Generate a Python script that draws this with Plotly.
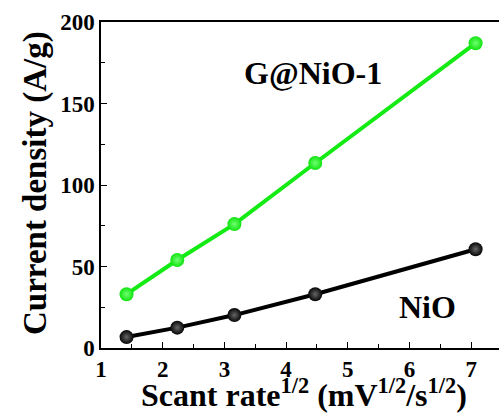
import plotly.graph_objects as go

scan_rate_sqrt = [1.414, 2.236, 3.162, 4.472, 7.071]
g_nio_current = [33.0, 54.0, 76.0, 113.5, 187.0]
nio_current = [6.7, 12.5, 20.2, 33.0, 60.6]

FONT = "Liberation Serif"

L, R, T, B = 101, 0, 22, 67
W, H = 499, 415
pw, ph = W - L - R, H - T - B

def px2paper(px, py):
    return (px - L) / pw, (H - B - py) / ph

fig = go.Figure()
fig.add_trace(go.Scatter(
    x=scan_rate_sqrt, y=g_nio_current, mode="lines+markers",
    line=dict(color="#14ea14", width=4),
    marker=dict(size=14, color="#10e410", gradient=dict(type="radial", color="#70ff70"),
                line=dict(width=0)),
    showlegend=False))
fig.add_trace(go.Scatter(
    x=scan_rate_sqrt, y=nio_current, mode="lines+markers",
    line=dict(color="#000000", width=4),
    marker=dict(size=14, color="#050505", gradient=dict(type="radial", color="#666666"),
                line=dict(width=0)),
    showlegend=False))

fig.add_annotation(x=4.43, y=169, text="<b>G@NiO-1</b>", showarrow=False,
                   font=dict(family=FONT, size=32, color="black"),
                   xanchor="center", yanchor="middle")
fig.add_annotation(x=6.29, y=25.3, text="<b>NiO</b>", showarrow=False,
                   font=dict(family=FONT, size=32, color="black"),
                   xanchor="center", yanchor="middle")

xt = px2paper(304, 393)
fig.add_annotation(x=xt[0], y=xt[1], xref="paper", yref="paper",
                   text="<b>Scant rate<sup>1/2</sup> (mV<sup>1/2</sup>/s<sup>1/2</sup>)</b>",
                   showarrow=False, font=dict(family=FONT, size=32, color="black"),
                   xanchor="center", yanchor="middle")
yt = px2paper(35, 183)
fig.add_annotation(x=yt[0], y=yt[1], xref="paper", yref="paper",
                   text="<b>Current density (A/g)</b>", textangle=-90,
                   showarrow=False, font=dict(family=FONT, size=33, color="black"),
                   xanchor="center", yanchor="middle")

axis_common = dict(
    showline=True, linecolor="black", linewidth=1.5, mirror=True,
    ticks="inside", ticklen=6, tickwidth=1.2, tickcolor="black",
    showgrid=False, zeroline=False, automargin=False,
    tickfont=dict(family=FONT, size=23, color="black", weight="bold"),
)

fig.update_xaxes(range=[1, 7.45], tickvals=[1, 2, 3, 4, 5, 6, 7],
                 minor=dict(tickvals=[1.5, 2.5, 3.5, 4.5, 5.5, 6.5, 7.5], ticklen=4, ticks="inside", tickcolor="black"),
                 **axis_common)
fig.update_yaxes(range=[0, 200], tickvals=[0, 50, 100, 150, 200],
                 minor=dict(tickvals=[25, 75, 125, 175], ticklen=4, ticks="inside", tickcolor="black"),
                 **axis_common)

fig.update_layout(
    width=W, height=H,
    margin=dict(l=L, r=R, t=T, b=B),
    paper_bgcolor="white", plot_bgcolor="white",
)

fig.write_html("out.html", config=dict(displayModeBar=False),
               post_script="document.body.style.margin='0px';")
